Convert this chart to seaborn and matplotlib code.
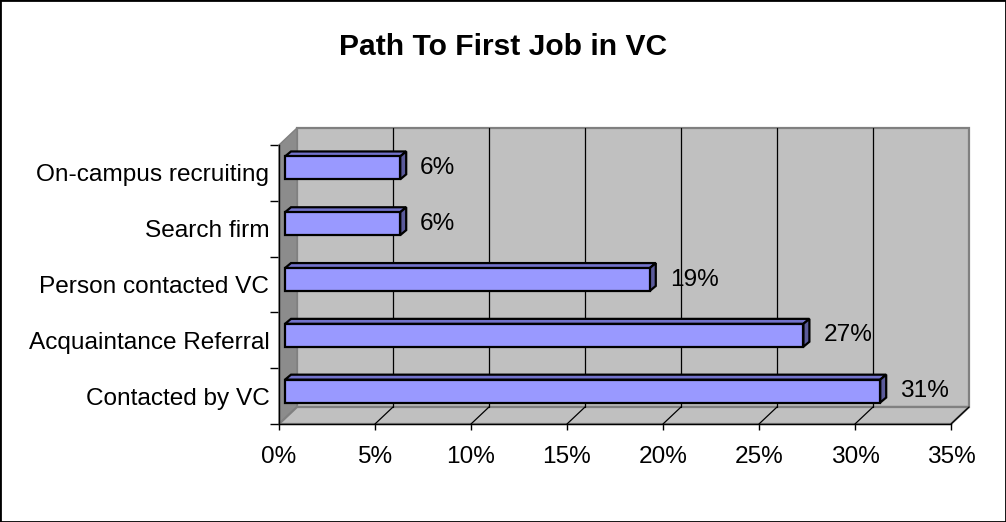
import numpy as np
import pandas as pd
import matplotlib
matplotlib.use("Agg")
import matplotlib.pyplot as plt
import seaborn as sns
from matplotlib.patches import Polygon, Rectangle
from matplotlib.transforms import IdentityTransform, ScaledTranslation
from matplotlib.lines import Line2D

# ---- data ----
title = "Path To First Job in VC"
categories = ["On-campus recruiting", "Search firm", "Person contacted VC",
              "Acquaintance Referral", "Contacted by VC"]
values = [6, 6, 19, 27, 31]
x_ticks = [0, 5, 10, 15, 20, 25, 30, 35]
x_tick_labels = ["0%", "5%", "10%", "15%", "20%", "25%", "30%", "35%"]
data_labels = ["6%", "6%", "19%", "27%", "31%"]

sns.set_style("white")
plt.rcParams["font.family"] = ["Liberation Sans", "DejaVu Sans"]
plt.rcParams["text.color"] = "black"
plt.rcParams["xtick.color"] = "black"
plt.rcParams["ytick.color"] = "black"
plt.rcParams["axes.labelcolor"] = "black"

FS = 17.6

W, H = 1006, 522
fig = plt.figure(figsize=(W / 100, H / 100), dpi=100)
fig.patch.set_facecolor("white")
ax = fig.add_axes([279 / W, (H - 424) / H, 672 / W, 279 / H])
ax.patch.set_visible(False)

df = pd.DataFrame({"category": categories, "value": values})
sns.barplot(data=df, x="value", y="category", orient="h", color="#9999ff",
            saturation=1, width=0.41, edgecolor="black", linewidth=1.6,
            ax=ax, zorder=5)
ax.set_xlim(0, 35)
ax.set_ylim(4.5, -0.5)
ax.set_xlabel("")
ax.set_ylabel("")

fig.canvas.draw()
ident = IdentityTransform()

def P(x, y, ox=0.0, oy=0.0):
    px, py = ax.transData.transform((x, y))
    return (px + ox, py + oy)

DX, DY = 18, 17          # depth of the 3-D box, pixels
BX, BY = 6, 5            # bar depth, pixels
wall_c, floor_c, side_c, edge_c = "#c0c0c0", "#c0c0c0", "#8c8c8c", "#808080"

# back wall
bw = Polygon([P(0, 4.5, DX, DY), P(35, 4.5, DX, DY), P(35, -0.5, DX, DY), P(0, -0.5, DX, DY)],
             closed=True, transform=ident, facecolor=wall_c, edgecolor=edge_c,
             linewidth=1.6, zorder=0.5, clip_on=False)
ax.add_patch(bw)
# left wall
lw_ = Polygon([P(0, 4.5), P(0, -0.5), P(0, -0.5, DX, DY), P(0, 4.5, DX, DY)],
              closed=True, transform=ident, facecolor=side_c, edgecolor=edge_c,
              linewidth=1.0, zorder=0.6, clip_on=False)
ax.add_patch(lw_)
# floor
fl = Polygon([P(0, 4.5), P(35, 4.5), P(35, 4.5, DX, DY), P(0, 4.5, DX, DY)],
             closed=True, transform=ident, facecolor=floor_c, edgecolor=edge_c,
             linewidth=1.6, zorder=0.7, clip_on=False)
ax.add_patch(fl)

# gridlines on back wall and floor
for xv in x_ticks[1:-1]:
    a = P(xv, 4.5, DX, DY)
    b = P(xv, -0.5, DX, DY)
    ax.add_line(Line2D([a[0], b[0]], [a[1], b[1]], transform=ident, color="black",
                       linewidth=0.9, zorder=0.8, clip_on=False))
for xv in x_ticks[1:]:
    a = P(xv, 4.5)
    b = P(xv, 4.5, DX, DY)
    ax.add_line(Line2D([a[0], b[0]], [a[1], b[1]], transform=ident, color="black",
                       linewidth=0.9, zorder=0.8, clip_on=False))

# 3-D bars: shift front faces and add top / side faces
shift = ScaledTranslation(BX / 100, BY / 100, fig.dpi_scale_trans)
bars = [p for p in ax.patches if isinstance(p, Rectangle) and p.get_height() != 0 and p.get_width() > 0]
for bar, lab in zip(bars, data_labels):
    x0, y0 = bar.get_x(), bar.get_y()
    x1, y1 = x0 + bar.get_width(), y0 + bar.get_height()
    ytop = min(y0, y1)
    ybot = max(y0, y1)
    bar.set_transform(ax.transData + shift)
    bar.set_clip_on(False)
    top = Polygon([P(x0, ytop, BX, BY), P(x1, ytop, BX, BY),
                   P(x1, ytop, 2 * BX, 2 * BY), P(x0, ytop, 2 * BX, 2 * BY)],
                  closed=True, transform=ident, facecolor="#7373cc", edgecolor="black",
                  linewidth=1.6, zorder=4.9, clip_on=False)
    side = Polygon([P(x1, ytop, BX, BY), P(x1, ytop, 2 * BX, 2 * BY),
                    P(x1, ybot, 2 * BX, 2 * BY), P(x1, ybot, BX, BY)],
                   closed=True, transform=ident, facecolor="#5a5a9a", edgecolor="black",
                   linewidth=1.6, zorder=4.9, clip_on=False)
    ax.add_patch(top)
    ax.add_patch(side)
    ax.annotate(lab, xy=(x1, (ytop + ybot) / 2), xytext=(BX + 20, BY),
                textcoords="offset pixels", ha="left", va="center",
                fontsize=FS, color="black", zorder=6)

# axes styling
for s in ["top", "right"]:
    ax.spines[s].set_visible(False)
for s in ["left", "bottom"]:
    ax.spines[s].set_visible(True)
    ax.spines[s].set_color("black")
    ax.spines[s].set_linewidth(1.0)
    ax.spines[s].set_zorder(3)

ax.set_xticks(x_ticks)
ax.set_xticklabels(x_tick_labels)
ax.tick_params(axis="x", which="major", direction="out", length=4.5, width=1,
               color="black", labelcolor="black", labelsize=FS, pad=11, bottom=True)
ax.set_yticks(range(len(categories)))
ax.set_yticklabels(categories)
ax.set_yticks(np.arange(-0.5, len(categories), 1.0), minor=True)
ax.tick_params(axis="y", which="major", length=0, labelsize=FS, labelcolor="black",
               pad=7, left=True)
ax.tick_params(axis="y", which="minor", direction="out", length=6.5, width=1,
               color="black", left=True)

fig.text(503.5 / W, 1 - 55 / H, title, ha="center", va="baseline",
         fontsize=21.6, fontweight="bold", color="black")

fig.add_artist(Rectangle((0, 0), 1, 1, transform=fig.transFigure, fill=False,
                         edgecolor="black", linewidth=2.0))

fig.savefig("out.png", dpi=100)
